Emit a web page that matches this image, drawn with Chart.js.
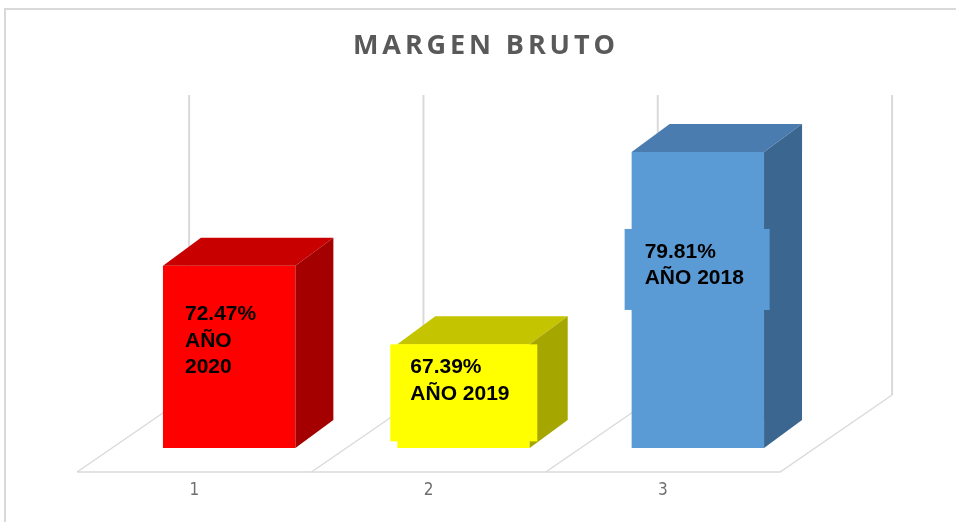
<!DOCTYPE html>
<html>
<head>
<meta charset="utf-8">
<script src="https://cdn.jsdelivr.net/npm/chart.js@4.4.1/dist/chart.umd.min.js"></script>
<style>
  html, body { margin: 0; padding: 0; background: #ffffff; }
  #wrap { width: 956px; height: 522px; position: relative; }
</style>
</head>
<body>
<div id="wrap"><canvas id="margenChart" width="956" height="522"></canvas></div>
<script>
// datos
const categories = ['1', '2', '3'];
const margins = [72.47, 67.39, 79.81];
const years = ['2020', '2019', '2018'];

const frontColors = ['#ff0000', '#ffff00', '#5b9bd5'];
const topColors = ['#c80000', '#c4c400', '#4a7cb0'];
const sideColors = ['#a50000', '#a6a600', '#3b6690'];

// bar depth (3D look) and floor geometry relative to bar plane
const depth = { dx: 38, dy: -28 };
const floorFront = 24, floorBack = 53, slant = 112 / 77;

// data label boxes: offsets from bar front face (left, top), size, line wrap
const labelBoxes = [
    { ox: 2, oy: 26, w: 128, h: 100, split: true },
    { ox: -7, oy: 0, w: 147, h: 97, split: false },
    { ox: -7, oy: 77, w: 145, h: 81, split: false }
];

const excel3d = {
    id: 'excel3d',
    beforeDatasetsDraw(chart) {
        const { ctx, chartArea } = chart;
        const n = chart.data.labels.length;
        const slot = (chartArea.right - chartArea.left) / n;
        const yFront = chartArea.bottom + floorFront;
        const yBack = chartArea.bottom - floorBack;
        const xFront = chartArea.left - floorFront * slant;
        const xBack = chartArea.left + floorBack * slant;
        const wallTop = chartArea.top - 54;

        ctx.save();
        // chart border
        ctx.strokeStyle = '#d9d9d9';
        ctx.lineWidth = 2;
        ctx.beginPath();
        ctx.moveTo(5, 522);
        ctx.lineTo(5, 9);
        ctx.lineTo(956, 9);
        ctx.stroke();

        // back wall vertical gridlines
        ctx.strokeStyle = '#dadada';
        ctx.lineWidth = 2;
        for (let k = 0; k <= n; k++) {
            const x = xBack + k * slot;
            ctx.beginPath();
            ctx.moveTo(x, wallTop);
            ctx.lineTo(x, yBack);
            ctx.stroke();
        }
        // floor
        ctx.lineWidth = 1.5;
        ctx.beginPath();
        ctx.moveTo(xFront, yFront);
        ctx.lineTo(xFront + n * slot, yFront);
        ctx.lineTo(xBack + n * slot, yBack);
        ctx.stroke();
        for (let k = 0; k < n; k++) {
            ctx.beginPath();
            ctx.moveTo(xFront + k * slot, yFront);
            ctx.lineTo(xBack + k * slot, yBack);
            ctx.stroke();
        }

        // category labels
        ctx.fillStyle = '#6f6f6f';
        ctx.font = '17px "Liberation Sans Narrow", "DejaVu Sans Condensed", sans-serif';
        ctx.textAlign = 'center';
        ctx.textBaseline = 'middle';
        chart.data.labels.forEach((lab, k) => {
            ctx.fillText(lab, xFront + (k + 0.5) * slot, yFront + 19);
        });

        // title
        ctx.fillStyle = '#595959';
        ctx.font = 'bold 27px "Open Sans", sans-serif';
        const title = 'MARGEN BRUTO';
        const plain = ctx.measureText(title).width;
        const sp = Math.max(0, (262 - plain) / (title.length - 1));
        ctx.letterSpacing = sp.toFixed(2) + 'px';
        ctx.textAlign = 'left';
        ctx.fillText(title, 353, 46);
        ctx.letterSpacing = '0px';
        ctx.restore();
    },
    afterDatasetsDraw(chart) {
        const { ctx, chartArea } = chart;
        const meta = chart.getDatasetMeta(0);
        ctx.save();
        meta.data.forEach((bar, i) => {
            const { x, y, base, width } = bar.getProps(['x', 'y', 'base', 'width'], true);
            const b = Math.min(base, chartArea.bottom);
            const l = x - width / 2, r = x + width / 2;
            // top face
            ctx.fillStyle = topColors[i];
            ctx.beginPath();
            ctx.moveTo(l, y);
            ctx.lineTo(r, y);
            ctx.lineTo(r + depth.dx, y + depth.dy);
            ctx.lineTo(l + depth.dx, y + depth.dy);
            ctx.closePath();
            ctx.fill();
            // side face
            ctx.fillStyle = sideColors[i];
            ctx.beginPath();
            ctx.moveTo(r, y);
            ctx.lineTo(r + depth.dx, y + depth.dy);
            ctx.lineTo(r + depth.dx, b + depth.dy);
            ctx.lineTo(r, b);
            ctx.closePath();
            ctx.fill();
        });

        // data labels
        meta.data.forEach((bar, i) => {
            const { x, y, width } = bar.getProps(['x', 'y', 'width'], true);
            const box = labelBoxes[i];
            const bx = x - width / 2 + box.ox;
            const by = y + box.oy;
            ctx.fillStyle = frontColors[i];
            ctx.fillRect(bx, by, box.w, box.h);
            const pct = margins[i].toFixed(2) + '%';
            const lines = box.split ? [pct, 'AÑO', years[i]] : [pct, 'AÑO ' + years[i]];
            ctx.fillStyle = '#000000';
            ctx.font = 'bold 21px "Liberation Sans", Arial, sans-serif';
            ctx.textAlign = 'left';
            ctx.textBaseline = 'middle';
            lines.forEach((t, j) => ctx.fillText(t, bx + 20, by + 23 + j * 26.5));
        });
        ctx.restore();
    }
};

const ctxMargen = document.getElementById('margenChart').getContext('2d');
const margenChart = new Chart(ctxMargen, {
    type: 'bar',
    data: {
        labels: categories,
        datasets: [{
            label: 'Margen bruto',
            data: margins,
            backgroundColor: frontColors,
            borderWidth: 0,
            categoryPercentage: 1,
            barPercentage: 0.565
        }]
    },
    options: {
        responsive: false,
        animation: false,
        layout: {
            padding: { left: 112, right: 141, top: 149, bottom: 74 }
        },
        scales: {
            x: { display: false },
            y: { display: false, min: 60.7, max: 80 }
        },
        plugins: {
            legend: { display: false },
            title: { display: false },
            tooltip: { enabled: false }
        }
    },
    plugins: [excel3d]
});
</script>
</body>
</html>
